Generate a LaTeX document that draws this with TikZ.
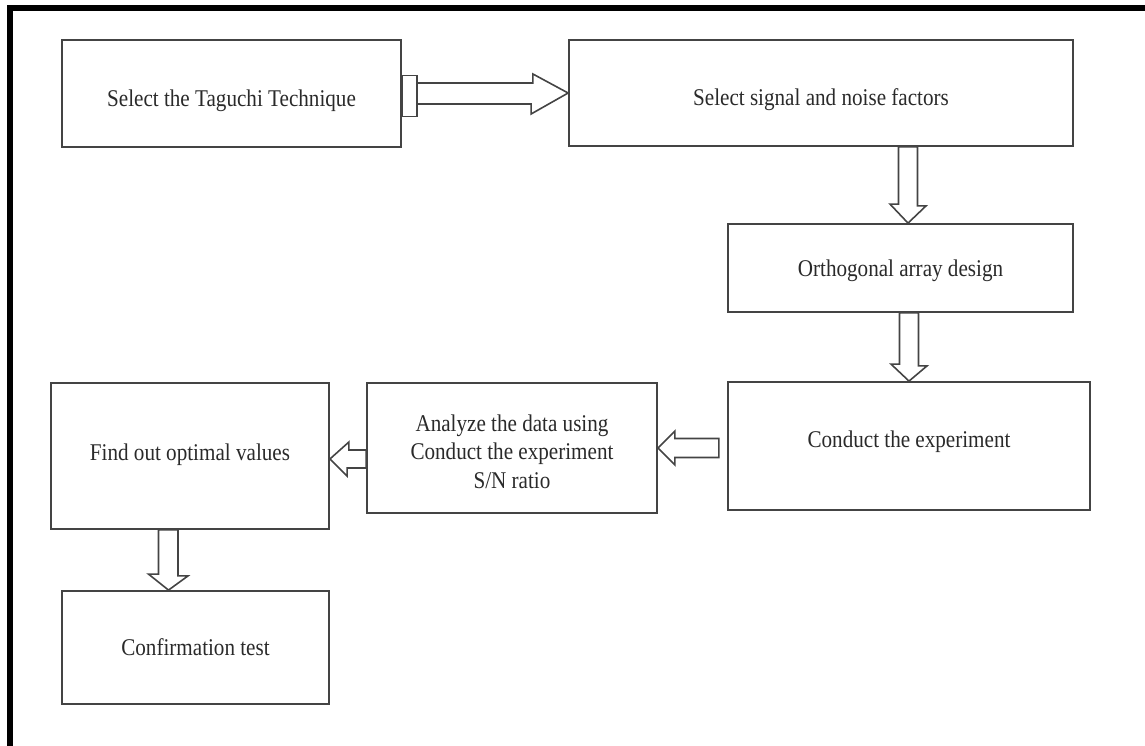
\documentclass[tikz,border=0pt]{standalone}
\usepackage{fontspec}
\setmainfont{Liberation Serif}[FakeStretch=0.88]
\usetikzlibrary{calc}
\definecolor{boxline}{HTML}{444444}
\definecolor{boxtext}{HTML}{2A2A2A}

\begin{document}
\begin{tikzpicture}[x=1pt, y=-1pt]
        \tikzset{
          block/.style={
            draw=boxline,
            line width=1.8pt,
            inner sep=0pt,
            text=boxtext,
            font=\fontsize{24}{28.5}\selectfont,
          },
          fat arrow/.style={
            draw=boxline,
            line width=1.6pt,
            line join=miter,
          },
        }
        \useasboundingbox (0,0) rectangle (1145,746);
        \draw[line width=6pt] (10,746) -- (10,8) -- (1145,8);

        \node[block, minimum width=339pt, minimum height=107pt, text height=27pt, text depth=0pt] (s1) at (231.5,93.5) {Select the Taguchi Technique};
        \node[block, minimum width=504pt, minimum height=106pt, text height=25pt, text depth=0pt] (s2) at (821,93) {Select signal and noise factors};
        \node[block, minimum width=345pt, minimum height=88pt, text height=16pt, text depth=0pt] (s3) at (900.5,268) {Orthogonal array design};
        \node[block, minimum width=362pt, minimum height=128pt, text height=2pt, text depth=0pt] (s4) at (909,446) {Conduct the experiment};
        \node[block, minimum width=290pt, minimum height=130pt, align=center, text height=80pt, text depth=0pt] (s5) at (512,448) {Analyze the data using\\Conduct the experiment\\S/N ratio};
        \node[block, minimum width=278pt, minimum height=146pt, text height=8pt, text depth=0pt] (s6) at (190,456) {Find out optimal values};
        \node[block, minimum width=267pt, minimum height=113pt, text height=16pt, text depth=0pt] (s7) at (195.5,647.5) {Confirmation test};

        % block arrows between the steps
        \draw[fat arrow] ($(s1.east)+(0,-18)$) rectangle ($(s1.east)+(15,23)$);
        \draw[fat arrow] ($(s1.east)+(15,-10.5)$) -- ++(116,0) -- ++(0,-9) -- (s2.west)
          -- ($(s2.west)+(-37,21)$) -- ++(0,-10) -- ($(s1.east)+(15,10.5)$) -- cycle;
        \draw[fat arrow] ($(s3.north)+(7.5,0)$) -- ++(-18,-19) -- ++(8.5,0)
          |- ($(s2.south)+(96.5,0)$) -- ++(0,59) -- ++(8.5,0) -- cycle;
        \draw[fat arrow] (s4.north) -- ++(-18,-17) -- ++(8.5,0)
          |- ($(s3.south)+(18,0)$) -- ++(0,53) -- ++(8.5,0) -- cycle;
        \draw[fat arrow] (s5.east) -- ++(17,-17) -- ++(0,7.5) -- ++(44,0)
          -- ++(0,19) -- ++(-44,0) -- ++(0,7.5) -- cycle;
        \draw[fat arrow] ($(s6.east)+(0,3)$) -- ++(19,-17) -- ++(0,8) -- ($(s5.west)+(0,2)$)
          -- ++(0,18) -- ++(-19,0) -- ++(0,8) -- cycle;
        \draw[fat arrow] ($(s7.north)+(-27,0)$) -- ++(-20,-16) -- ++(10,0)
          |- ($(s6.south)+(-12,0)$) -- ++(0,46) -- ++(10,0) -- cycle;
\end{tikzpicture}
\end{document}
